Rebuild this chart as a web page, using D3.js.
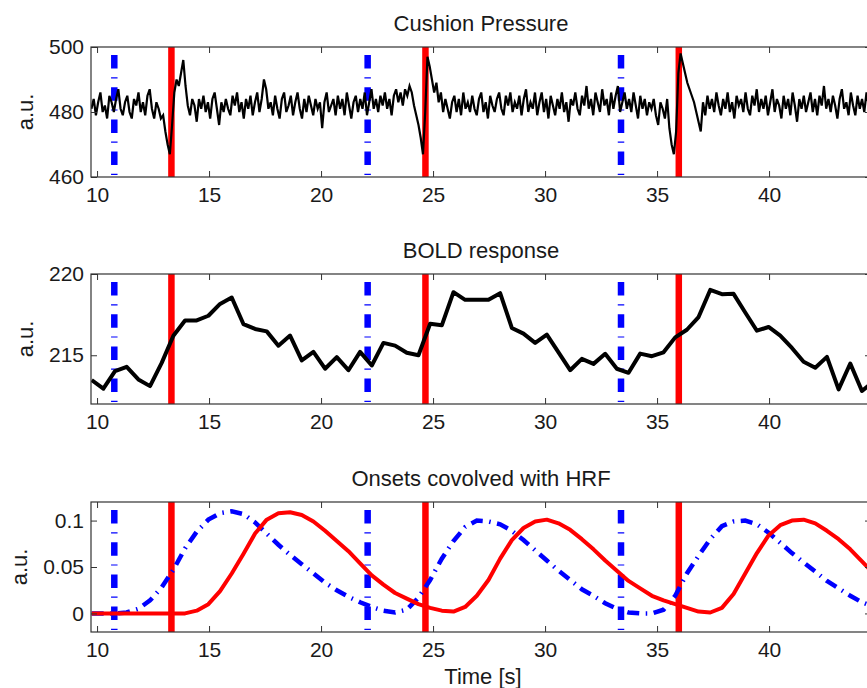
<!DOCTYPE html>
<html lang="en">
<head>
  <meta charset="UTF-8">
  <title>Cushion pressure, BOLD response and HRF</title>
  <script src="https://d3js.org/d3.v7.min.js"></script>
  <style>
    body { margin: 0; background: #fff; }
    text { font-family: "Liberation Sans", Arial, Helvetica, sans-serif; fill: #1a1a1a; }
  </style>
</head>
<body>
  <svg id="chart" width="867" height="688"></svg>

  <script>
    // onsets (s)
    const blueOnsets = [10.77, 22.08, 33.39];
    const redOnsets = [13.32, 24.66, 35.97];
    const xTicks = [10, 15, 20, 25, 30, 35, 40];

    // cushion pressure, sampled every 0.1 s from 9.75 s
    const pressureStart = 9.75, pressureStep = 0.1;
    const pressure = [
      481, 484, 479, 483, 486, 480, 482, 478, 485, 483,
      480, 484, 487, 481, 479, 483, 485, 480, 478, 484,
      482, 486, 480, 483, 479, 485, 487, 481, 478, 483,
      481, 478, 479, 474, 470, 467, 476, 486, 490, 488,
      492, 496, 488, 482, 479, 484, 482, 477, 484, 481,
      485, 480, 483, 478, 484, 486, 481, 476, 483, 480,
      484, 481, 479, 485, 482, 486, 480, 483, 478, 484,
      481, 485, 479, 483, 486, 480, 484, 490, 487, 481,
      483, 479, 485, 481, 478, 484, 486, 480, 482, 485,
      479, 483, 486, 481, 478, 484, 480, 485, 482, 479,
      484, 481, 483, 475, 483, 486, 480, 482, 484, 479,
      485, 481, 484, 479, 486, 482, 478, 483, 485, 480,
      484, 481, 486, 479, 483, 487, 481, 484, 480, 485,
      482, 486, 481, 484, 479, 485, 487, 483, 486, 482,
      487, 485, 488, 486, 482, 479, 476, 472, 467, 480,
      497, 494, 490, 486, 489, 483, 486, 480, 484, 481,
      478, 483, 485, 480, 484, 479, 486, 481, 483, 480,
      485, 481, 479, 484, 486, 480, 483, 478, 485, 482,
      480, 484, 486, 481, 479, 485, 482, 486, 480, 483,
      481, 485, 479, 484, 487, 480, 483, 481, 486, 479,
      483, 486, 480, 484, 478, 485, 482, 479, 484, 481,
      486, 480, 483, 477, 484, 482, 486, 481, 479, 485,
      482, 488, 481, 484, 479, 486, 483, 480, 487, 482,
      484, 479, 486, 481, 485, 488, 480, 483, 486, 481,
      484, 480, 486, 482, 478, 485, 481, 484, 479, 483,
      481, 484, 479, 476, 483, 481, 478, 484, 475, 470,
      467, 474, 492, 498, 495, 492, 489, 487, 485, 483,
      480, 477, 474, 483, 479, 485, 481, 484, 480, 486,
      482, 479, 484, 481, 486, 480, 483, 478, 485, 482,
      484, 480, 486, 481, 479, 485, 482, 487, 480, 484,
      481, 485, 479, 483, 487, 480, 484, 482, 478, 485,
      481, 484, 479, 486, 482, 477, 484, 481, 485, 480,
      483, 486, 480, 484, 479, 485, 482, 488, 481, 484,
      480, 485, 482, 478, 484, 487, 481, 483, 479, 486,
      482, 479, 485, 481, 484, 480, 486, 482, 481
    ];

    // BOLD and HRF regressors, one value per volume from 9.76 s
    const volStart = 9.76, volStep = 0.521;
    const bold = [
      213.47, 212.94, 214.02, 214.29, 213.51, 213.10, 214.53, 216.20, 217.14, 217.14,
      217.43, 218.16, 218.55, 216.92, 216.62, 216.47, 215.59, 216.21, 214.68, 215.21,
      214.17, 214.88, 214.08, 215.21, 214.37, 215.76, 215.59, 215.15, 215.00, 216.94,
      216.84, 218.88, 218.41, 218.41, 218.41, 218.82, 216.68, 216.33, 215.76, 216.27,
      215.18, 214.08, 214.78, 214.47, 215.09, 214.17, 213.92, 215.10, 214.94, 215.18,
      216.10, 216.57, 217.35, 219.02, 218.76, 218.78, 217.63, 216.51, 216.74, 216.21,
      215.45, 214.60, 214.23, 214.90, 212.90, 214.49, 212.80, 213.40
    ];
    const hrfRed = [
      0, 0, 0, 0, 0, 0, 0, 0, 0, 0.003,
      0.010, 0.024, 0.043, 0.064, 0.086, 0.101, 0.108, 0.109, 0.106, 0.099,
      0.089, 0.078, 0.067, 0.054, 0.041, 0.031, 0.022, 0.016, 0.010, 0.006,
      0.003, 0.002, 0.007, 0.019, 0.036, 0.059, 0.079, 0.092, 0.099, 0.101,
      0.097, 0.090, 0.080, 0.069, 0.057, 0.046, 0.035, 0.027, 0.019, 0.014,
      0.010, 0.006, 0.002, 0.001, 0.006, 0.021, 0.043, 0.065, 0.084, 0.095,
      0.100, 0.101, 0.097, 0.089, 0.080, 0.069, 0.056, 0.043
    ];
    const hrfBlue = [
      0, 0, 0, 0.001, 0.005, 0.014, 0.028, 0.047, 0.070, 0.088,
      0.101, 0.108, 0.110, 0.107, 0.098, 0.086, 0.074, 0.063, 0.053, 0.043,
      0.033, 0.025, 0.018, 0.012, 0.007, 0.003, 0.001, 0.004, 0.017, 0.036,
      0.059, 0.078, 0.093, 0.100, 0.099, 0.096, 0.089, 0.079, 0.068, 0.057,
      0.046, 0.036, 0.026, 0.019, 0.011, 0.005, 0.001, 0, 0, 0.004,
      0.019, 0.043, 0.062, 0.080, 0.094, 0.099, 0.100, 0.096, 0.087, 0.076,
      0.065, 0.055, 0.045, 0.035, 0.027, 0.019, 0.012, 0.007
    ];

    const pressureTicks = [460, 480, 500];
    const boldTicks = [215, 220];
    const hrfTicks = [0, 0.05, 0.1];

    const svg = d3.select("#chart");
    const left = 91, right = 871, panelH = 130;

    const x = d3.scaleLinear()
      .domain([9.73, 44.55])
      .range([left, right]);

    function panel(id, top, yDomain, yTicks, title, labelX) {
      const bottom = top + panelH;
      const y = d3.scaleLinear().domain(yDomain).range([bottom, top]);

      svg.append("clipPath").attr("id", "clip-" + id)
        .append("rect")
        .attr("x", left).attr("y", top)
        .attr("width", right - left).attr("height", panelH);

      const plot = svg.append("g").attr("clip-path", `url(#clip-${id})`);

      // onset markers first, signals go over them
      plot.selectAll(".blue-onset")
        .data(blueOnsets)
        .enter().append("line")
        .attr("x1", d => x(d)).attr("x2", d => x(d))
        .attr("y1", top).attr("y2", bottom)
        .attr("stroke", "#0000ff")
        .attr("stroke-width", 6.5)
        .attr("stroke-dasharray", "13.5,8.7,1.2,8.8")
        .attr("stroke-dashoffset", 24.2);

      plot.selectAll(".red-onset")
        .data(redOnsets)
        .enter().append("line")
        .attr("x1", d => x(d)).attr("x2", d => x(d))
        .attr("y1", top).attr("y2", bottom)
        .attr("stroke", "#ff0000")
        .attr("stroke-width", 6.5);

      const axes = svg.append("g").attr("color", "#333");

      axes.append("g")
        .attr("transform", `translate(0,${bottom})`)
        .call(d3.axisBottom(x).tickValues(xTicks).tickSizeInner(-6).tickSizeOuter(0).tickPadding(10))
        .attr("font-size", 21)
        .call(a => a.select(".domain").remove());

      axes.append("g")
        .attr("transform", `translate(0,${top})`)
        .call(d3.axisTop(x).tickValues(xTicks).tickSizeInner(-6).tickSizeOuter(0).tickFormat(""))
        .call(a => a.select(".domain").remove());

      axes.append("g")
        .attr("transform", `translate(${left},0)`)
        .call(d3.axisLeft(y).tickValues(yTicks).tickSizeInner(-6).tickSizeOuter(0).tickPadding(7).tickFormat(d => String(d)))
        .attr("font-size", 21)
        .call(a => a.select(".domain").remove());

      axes.append("g")
        .attr("transform", `translate(${right},0)`)
        .call(d3.axisRight(y).tickValues(yTicks).tickSizeInner(-6).tickSizeOuter(0).tickFormat(""))
        .call(a => a.select(".domain").remove());

      axes.append("rect")
        .attr("x", left).attr("y", top)
        .attr("width", right - left).attr("height", panelH)
        .attr("fill", "none")
        .attr("stroke", "#333")
        .attr("stroke-width", 1.2);

      svg.append("text")
        .attr("x", (left + right) / 2)
        .attr("y", top - 16)
        .attr("text-anchor", "middle")
        .attr("font-size", 22)
        .text(title);

      svg.append("text")
        .attr("transform", `translate(${labelX},${top + panelH / 2}) rotate(-90)`)
        .attr("text-anchor", "middle")
        .attr("font-size", 22)
        .text("a.u.");

      return { plot, y };
    }

    // Cushion Pressure
    const p1 = panel("p1", 47, [460, 500], pressureTicks, "Cushion Pressure", 33);
    p1.plot.append("path")
      .datum(pressure)
      .attr("fill", "none")
      .attr("stroke", "#000")
      .attr("stroke-width", 2.2)
      .attr("stroke-linejoin", "miter")
      .attr("d", d3.line()
        .x((d, i) => x(pressureStart + i * pressureStep))
        .y(d => p1.y(d)));

    // BOLD response
    const p2 = panel("p2", 274, [212, 220], boldTicks, "BOLD response", 33);
    p2.plot.append("path")
      .datum(bold)
      .attr("fill", "none")
      .attr("stroke", "#000")
      .attr("stroke-width", 4)
      .attr("stroke-linejoin", "round")
      .attr("d", d3.line()
        .x((d, i) => x(volStart + i * volStep))
        .y(d => p2.y(d)));

    // Onsets convolved with HRF
    const p3 = panel("p3", 502, [-0.02, 0.12], hrfTicks, "Onsets covolved with HRF", 27);
    const hrfLine = d3.line()
      .x((d, i) => x(volStart + i * volStep))
      .y(d => p3.y(d));

    p3.plot.append("path")
      .datum(hrfBlue)
      .attr("fill", "none")
      .attr("stroke", "#0000ff")
      .attr("stroke-width", 4.5)
      .attr("stroke-dasharray", "12,6.5,1.5,6.5")
      .attr("d", hrfLine);

    p3.plot.append("path")
      .datum(hrfRed)
      .attr("fill", "none")
      .attr("stroke", "#ff0000")
      .attr("stroke-width", 4)
      .attr("stroke-linejoin", "round")
      .attr("d", hrfLine);

    svg.append("text")
      .attr("x", 483)
      .attr("y", 684)
      .attr("text-anchor", "middle")
      .attr("font-size", 22)
      .text("Time [s]");
  </script>
</body>
</html>
